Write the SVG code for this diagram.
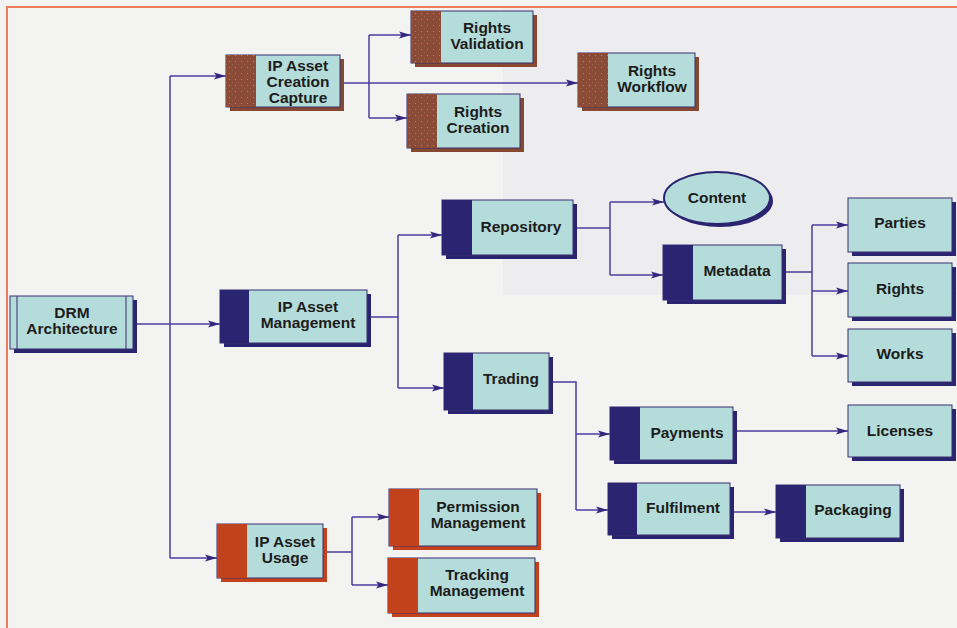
<svg xmlns="http://www.w3.org/2000/svg" width="957" height="628" viewBox="0 0 957 628">
<defs>
  <pattern id="dots" width="6" height="6" patternUnits="userSpaceOnUse">
    <rect width="6" height="6" fill="#8c4b36"/>
    <circle cx="1.5" cy="1.5" r="0.55" fill="#a8936a"/>
    <circle cx="4.5" cy="4.5" r="0.45" fill="#9f8262"/>
  </pattern>
  <marker id="arr" markerWidth="12" markerHeight="8" refX="12" refY="4" orient="auto" markerUnits="userSpaceOnUse">
    <path d="M0,0.5 L12,4 L0,7.5 L2.5,4 Z" fill="#33287e"/>
  </marker>
  <style>
    .body{fill:#b4dcda;stroke:#3a2f70;stroke-width:1}
    .navy{fill:#2b2470}
    .brown{fill:url(#dots)}
    .brsh{fill:#874832}
    .red{fill:#c2421e}
    .lbl{font-family:"Liberation Sans",Arial,Helvetica,sans-serif;font-weight:bold;font-size:15.5px;fill:#1c1c1c;text-anchor:middle}
    .con{fill:none;stroke:#4d3c9c;stroke-width:1.5}
    .arrow{marker-end:url(#arr)}
  </style>
</defs>
<rect x="0" y="0" width="957" height="628" fill="#f3f3f1"/>
<rect x="503" y="8" width="454" height="287" fill="#ededef"/>
<path d="M7,628 V7 H957" fill="none" stroke="#f07a5c" stroke-width="2"/>

<g id="connectors">
  <path class="con" d="M170,76 V558"/>
  <path class="con arrow" d="M170,76 H226"/>
  <path class="con arrow" d="M170,558 H217"/>
  <path class="con arrow" d="M133,324 H220"/>
  <path class="con arrow" d="M340,83 H578"/>
  <path class="con" d="M369,35 V118"/>
  <path class="con arrow" d="M369,35 H411"/>
  <path class="con arrow" d="M369,118 H407"/>
  <path class="con" d="M367,317 H398 M398,235 V388"/>
  <path class="con arrow" d="M398,235 H442"/>
  <path class="con arrow" d="M398,388 H444"/>
  <path class="con" d="M573,228 H610 M610,202 V275"/>
  <path class="con arrow" d="M610,202 H664"/>
  <path class="con arrow" d="M610,275 H663"/>
  <path class="con" d="M782,272 H812 M812,225 V356"/>
  <path class="con arrow" d="M812,225 H848"/>
  <path class="con arrow" d="M812,291 H848"/>
  <path class="con arrow" d="M812,356 H848"/>
  <path class="con" d="M549,382 H576 V510"/>
  <path class="con arrow" d="M576,434 H610"/>
  <path class="con arrow" d="M576,510 H608"/>
  <path class="con arrow" d="M733,431 H848"/>
  <path class="con arrow" d="M730,512 H776"/>
  <path class="con" d="M323,552 H352 M352,517 V585"/>
  <path class="con arrow" d="M352,517 H389"/>
  <path class="con arrow" d="M352,585 H388"/>
</g>

<g id="drm-architecture">
  <rect x="14" y="300" width="123" height="53" class="navy"/>
  <rect x="10" y="296" width="123" height="53" class="body"/>
  <line x1="17" y1="296" x2="17" y2="349" stroke="#3a2f70" stroke-width="1"/>
  <line x1="126" y1="296" x2="126" y2="349" stroke="#3a2f70" stroke-width="1"/>
  <text class="lbl" x="72" y="318">DRM</text>
  <text class="lbl" x="72" y="334">Architecture</text>
</g>

<g id="ip-asset-creation-capture">
  <rect x="230" y="59" width="114" height="52" class="brsh"/>
  <rect x="226" y="55" width="114" height="52" class="body"/>
  <rect x="226" y="55" width="30" height="52" class="brown"/>
  <text class="lbl" x="298" y="71">IP Asset</text>
  <text class="lbl" x="298" y="87">Creation</text>
  <text class="lbl" x="298" y="103">Capture</text>
</g>

<g id="rights-validation">
  <rect x="415" y="15" width="122" height="52" class="brsh"/>
  <rect x="411" y="11" width="122" height="52" class="body"/>
  <rect x="411" y="11" width="30" height="52" class="brown"/>
  <text class="lbl" x="487" y="33">Rights</text>
  <text class="lbl" x="487" y="49">Validation</text>
</g>

<g id="rights-creation">
  <rect x="411" y="98" width="113" height="54" class="brsh"/>
  <rect x="407" y="94" width="113" height="54" class="body"/>
  <rect x="407" y="94" width="30" height="54" class="brown"/>
  <text class="lbl" x="478" y="117">Rights</text>
  <text class="lbl" x="478" y="133">Creation</text>
</g>

<g id="rights-workflow">
  <rect x="582" y="57" width="117" height="54" class="brsh"/>
  <rect x="578" y="53" width="117" height="54" class="body"/>
  <rect x="578" y="53" width="30" height="54" class="brown"/>
  <text class="lbl" x="652" y="76">Rights</text>
  <text class="lbl" x="652" y="92">Workflow</text>
</g>

<g id="ip-asset-management">
  <rect x="224" y="294" width="147" height="53" class="navy"/>
  <rect x="220" y="290" width="147" height="53" class="body"/>
  <rect x="220" y="290" width="29" height="53" class="navy"/>
  <text class="lbl" x="308" y="312">IP Asset</text>
  <text class="lbl" x="308" y="328">Management</text>
</g>

<g id="repository">
  <rect x="446" y="204" width="131" height="55" class="navy"/>
  <rect x="442" y="200" width="131" height="55" class="body"/>
  <rect x="442" y="200" width="30" height="55" class="navy"/>
  <text class="lbl" x="521" y="232">Repository</text>
</g>

<g id="content">
  <ellipse cx="720" cy="201" rx="53" ry="26" class="navy"/>
  <ellipse cx="717" cy="198" rx="53" ry="26" fill="#b4dcda" stroke="#2b2470" stroke-width="2"/>
  <text class="lbl" x="717" y="203">Content</text>
</g>

<g id="metadata">
  <rect x="667" y="249" width="119" height="55" class="navy"/>
  <rect x="663" y="245" width="119" height="55" class="body"/>
  <rect x="663" y="245" width="30" height="55" class="navy"/>
  <text class="lbl" x="737" y="276">Metadata</text>
</g>

<g id="parties">
  <rect x="852" y="202" width="104" height="54" class="navy"/>
  <rect x="848" y="198" width="104" height="54" class="body"/>
  <text class="lbl" x="900" y="228">Parties</text>
</g>

<g id="rights">
  <rect x="852" y="267" width="104" height="54" class="navy"/>
  <rect x="848" y="263" width="104" height="54" class="body"/>
  <text class="lbl" x="900" y="294">Rights</text>
</g>

<g id="works">
  <rect x="852" y="333" width="104" height="53" class="navy"/>
  <rect x="848" y="329" width="104" height="53" class="body"/>
  <text class="lbl" x="900" y="359">Works</text>
</g>

<g id="licenses">
  <rect x="852" y="409" width="104" height="52" class="navy"/>
  <rect x="848" y="405" width="104" height="52" class="body"/>
  <text class="lbl" x="900" y="436">Licenses</text>
</g>

<g id="trading">
  <rect x="448" y="357" width="105" height="57" class="navy"/>
  <rect x="444" y="353" width="105" height="57" class="body"/>
  <rect x="444" y="353" width="29" height="57" class="navy"/>
  <text class="lbl" x="511" y="384">Trading</text>
</g>

<g id="payments">
  <rect x="614" y="411" width="123" height="53" class="navy"/>
  <rect x="610" y="407" width="123" height="53" class="body"/>
  <rect x="610" y="407" width="30" height="53" class="navy"/>
  <text class="lbl" x="687" y="438">Payments</text>
</g>

<g id="fulfilment">
  <rect x="612" y="487" width="122" height="52" class="navy"/>
  <rect x="608" y="483" width="122" height="52" class="body"/>
  <rect x="608" y="483" width="29" height="52" class="navy"/>
  <text class="lbl" x="683" y="513">Fulfilment</text>
</g>

<g id="packaging">
  <rect x="780" y="489" width="124" height="53" class="navy"/>
  <rect x="776" y="485" width="124" height="53" class="body"/>
  <rect x="776" y="485" width="30" height="53" class="navy"/>
  <text class="lbl" x="853" y="515">Packaging</text>
</g>

<g id="ip-asset-usage">
  <rect x="221" y="528" width="106" height="54" class="red"/>
  <rect x="217" y="524" width="106" height="54" class="body"/>
  <rect x="217" y="524" width="30" height="54" class="red"/>
  <text class="lbl" x="285" y="547">IP Asset</text>
  <text class="lbl" x="285" y="563">Usage</text>
</g>

<g id="permission-management">
  <rect x="393" y="493" width="148" height="57" class="red"/>
  <rect x="389" y="489" width="148" height="57" class="body"/>
  <rect x="389" y="489" width="30" height="57" class="red"/>
  <text class="lbl" x="478" y="512">Permission</text>
  <text class="lbl" x="478" y="528">Management</text>
</g>

<g id="tracking-management">
  <rect x="392" y="562" width="147" height="55" class="red"/>
  <rect x="388" y="558" width="147" height="55" class="body"/>
  <rect x="388" y="558" width="30" height="55" class="red"/>
  <text class="lbl" x="477" y="580">Tracking</text>
  <text class="lbl" x="477" y="596">Management</text>
</g>
</svg>
